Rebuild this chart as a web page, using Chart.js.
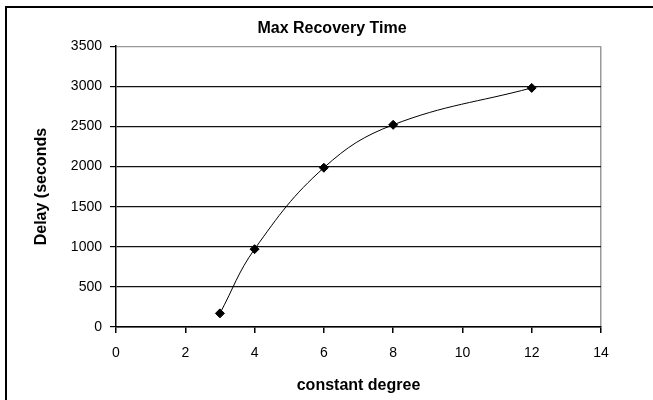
<!DOCTYPE html>
<html>
<head>
<meta charset="utf-8">
<script src="https://cdn.jsdelivr.net/npm/chart.js@4"></script>
<style>
    html, body { margin: 0; padding: 0; background: #fff; }
    #wrap { position: relative; width: 653px; height: 400px; overflow: hidden; }
    #frame { position: absolute; left: 5px; top: 6px; width: 700px; height: 420px;
             border-left: 2px solid #000; border-top: 2px solid #000; }
    #chart { position: absolute; left: 0; top: 0; }
</style>
</head>
<body>
<div id="wrap">
    <div id="frame"></div>
    <canvas id="chart" width="653" height="400"></canvas>
</div>
<script>
// data
let degree = [3, 4, 6, 8, 12];
let delay = [170, 970, 1985, 2520, 2980];
let xTicks = [0, 2, 4, 6, 8, 10, 12, 14];
let yTicks = [0, 500, 1000, 1500, 2000, 2500, 3000, 3500];

let points = degree.map((d, i) => ({x: d, y: delay[i]}));
let font = "'Liberation Sans', Arial, sans-serif";

new Chart(document.getElementById("chart"), {
    type: "scatter",
    data: {
        datasets: [{
            label: "Max Recovery Time",
            data: points,
            showLine: true,
            tension: 0.4,
            borderColor: "#000",
            borderWidth: 1,
            backgroundColor: "#000",
            pointStyle: "rectRot",
            pointRadius: 4.5,
            pointHoverRadius: 4.5
        }]
    },
    options: {
        responsive: false,
        animation: false,
        layout: {padding: {left: 63, right: 52, top: 0, bottom: 0}},
        plugins: {
            legend: {display: false},
            tooltip: {enabled: false},
            title: {
                display: true,
                text: "Max Recovery Time",
                color: "#000",
                font: {family: font, size: 16, weight: "bold"},
                padding: {top: 19, bottom: 8}
            }
        },
        scales: {
            x: {
                type: "linear",
                min: xTicks[0],
                max: xTicks[xTicks.length - 1],
                afterBuildTicks: s => { s.ticks = xTicks.map(v => ({value: v})); },
                afterFit: s => { s.height = 73; },
                border: {color: "#000", width: 1.5},
                grid: {
                    drawOnChartArea: true,
                    color: c => c.tick && c.tick.value === 14 ? "#999" : "rgba(0,0,0,0)",
                    tickColor: "#000",
                    lineWidth: 1.5,
                    tickLength: 6
                },
                ticks: {color: "#000", padding: 12, font: {family: font, size: 14},
                        callback: v => String(v)},
                title: {
                    display: true,
                    text: "constant degree",
                    color: "#000",
                    font: {family: font, size: 16, weight: "bold"},
                    padding: {top: 0, bottom: 5}
                }
            },
            y: {
                type: "linear",
                min: yTicks[0],
                max: yTicks[yTicks.length - 1],
                afterBuildTicks: s => { s.ticks = yTicks.map(v => ({value: v})); },
                afterFit: s => { s.width = 116 - 63; },
                border: {color: "#000", width: 1.5},
                grid: {
                    color: c => c.tick && c.tick.value === 3500 ? "#999" : "#111",
                    tickColor: "#000",
                    lineWidth: 1.2,
                    tickLength: 6
                },
                ticks: {color: "#000", padding: 8, font: {family: font, size: 14},
                        callback: v => String(v)},
                title: {
                    display: true,
                    text: "Delay (seconds",
                    color: "#000",
                    font: {family: font, size: 16, weight: "bold"},
                    padding: {top: -31, bottom: 0}
                }
            }
        }
    }
});
</script>
</body>
</html>
